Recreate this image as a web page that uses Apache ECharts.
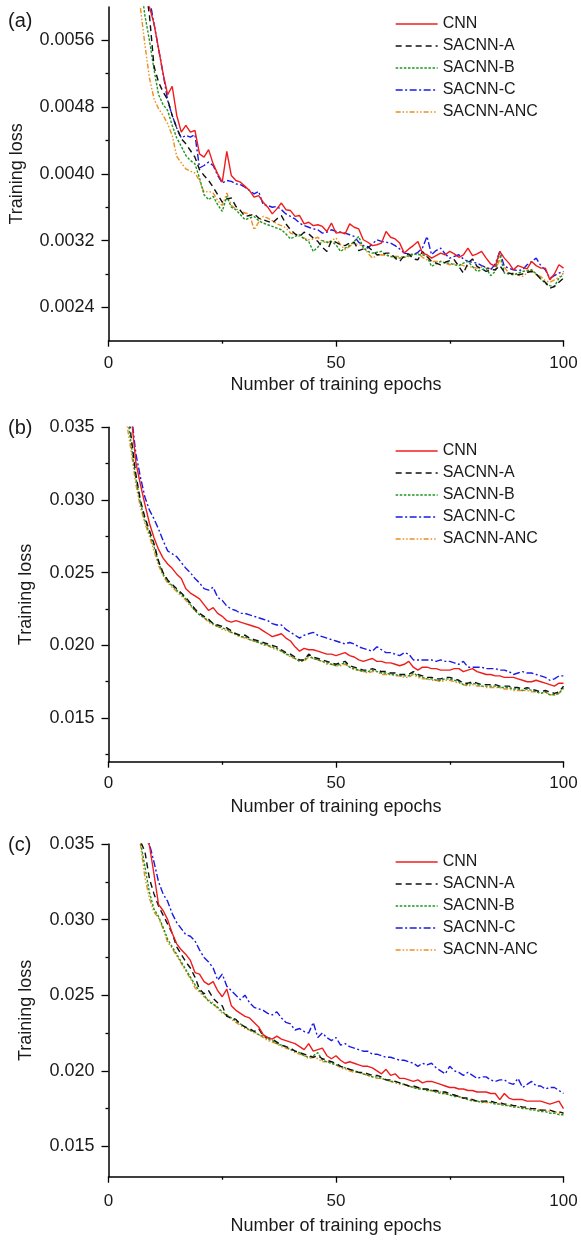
<!DOCTYPE html>
<html>
<head>
<meta charset="utf-8">
<script src="https://cdn.jsdelivr.net/npm/echarts@6/dist/echarts.min.js"></script>
<style>
html,body{margin:0;padding:0;background:#fff;}
#chart{width:581px;height:1241px;}
</style>
</head>
<body>
<div id="chart"></div>
<script>
// ---------------- DATA ----------------
const seriesNames = ['CNN', 'SACNN-A', 'SACNN-B', 'SACNN-C', 'SACNN-ANC'];
const epochs = Array.from({length: 100}, (_, i) => i + 1);
const xTickLabels = [0, 50, 100];

// Panel (a)
const yTicksA = [0.0024, 0.0032, 0.0040, 0.0048, 0.0056];
const yMinorA = [0.0028, 0.0036, 0.0044, 0.0052];
const a_CNN = [
0.0120,0.0100,0.0088,0.0079,0.0072,0.0067,0.0064,0.0062,0.0060,0.0058,
0.0055,0.0052,0.00495,0.00505,0.0047,0.00450,0.00458,0.00450,0.00452,0.00424,
0.00420,0.00429,0.00412,0.00400,0.00390,0.00427,0.00398,0.00392,0.00390,0.00385,
0.00380,0.00372,0.00374,0.00366,0.00360,0.00352,0.00358,0.00365,0.00357,0.00356,
0.00349,0.00350,0.00340,0.00342,0.00338,0.00339,0.00337,0.00331,0.00341,0.00329,
0.00330,0.00328,0.00340,0.00336,0.00334,0.00321,0.00318,0.00314,0.00315,0.00317,
0.00331,0.00324,0.00322,0.00317,0.00305,0.00310,0.00314,0.00319,0.00305,0.00303,
0.00299,0.00302,0.00305,0.00303,0.00307,0.00304,0.00300,0.00303,0.00311,0.00302,
0.00304,0.00307,0.00299,0.00292,0.00289,0.00307,0.00299,0.00293,0.00285,0.00290,
0.00288,0.00286,0.00295,0.00290,0.00287,0.00287,0.00273,0.00280,0.00291,0.00287];
const a_A = [
0.0115,0.0096,0.0084,0.0076,0.0070,0.0066,0.0064,0.0063,0.0059,0.00529,
0.00510,0.00498,0.00489,0.00470,0.00455,0.00442,0.00436,0.00428,0.00420,0.00405,
0.00398,0.00392,0.00384,0.00375,0.00366,0.00370,0.00371,0.00361,0.00356,0.00349,
0.00350,0.00352,0.00347,0.00345,0.00343,0.00341,0.00346,0.00350,0.00340,0.00333,
0.00328,0.00325,0.00330,0.00328,0.00323,0.00319,0.00312,0.00307,0.00320,0.00318,
0.00315,0.00314,0.00317,0.00318,0.00308,0.00310,0.00313,0.00308,0.00303,0.00303,
0.00305,0.00305,0.00299,0.00295,0.00302,0.00304,0.00298,0.00297,0.00307,0.00301,
0.00295,0.00293,0.00291,0.00294,0.00296,0.00297,0.00289,0.00281,0.00293,0.00298,
0.00289,0.00286,0.00283,0.00285,0.00285,0.00290,0.00282,0.00281,0.00280,0.00279,
0.00280,0.00282,0.00283,0.00280,0.00274,0.00270,0.00263,0.00265,0.00270,0.00275];
const a_B = [
0.0112,0.0093,0.0082,0.0074,0.0068,0.0065,0.0063,0.0059,0.00560,0.00525,
0.00495,0.00483,0.00476,0.00458,0.00443,0.00433,0.00422,0.00416,0.00412,0.00395,
0.00375,0.00369,0.00373,0.00363,0.00355,0.00373,0.00360,0.00357,0.00351,0.00345,
0.00347,0.00349,0.00344,0.00341,0.00339,0.00337,0.00335,0.00333,0.00328,0.00322,
0.00325,0.00327,0.00322,0.00319,0.00307,0.00312,0.00320,0.00318,0.00319,0.00315,
0.00307,0.00311,0.00314,0.00319,0.00325,0.00311,0.00307,0.00305,0.00306,0.00307,
0.00303,0.00301,0.00300,0.00299,0.00300,0.00302,0.00304,0.00303,0.00303,0.00301,
0.00289,0.00292,0.00295,0.00293,0.00293,0.00291,0.00290,0.00293,0.00295,0.00289,
0.00283,0.00285,0.00287,0.00278,0.00283,0.00305,0.00281,0.00280,0.00279,0.00281,
0.00283,0.00284,0.00285,0.00280,0.00274,0.00269,0.00266,0.00265,0.00275,0.00279];
const a_C = [
0.0125,0.0104,0.0091,0.0081,0.0074,0.0069,0.0066,0.0063,0.0061,0.0058,
0.00550,0.00520,0.00488,0.00470,0.00455,0.00443,0.00446,0.00444,0.00447,0.00407,
0.00410,0.00414,0.00410,0.00398,0.00389,0.00392,0.00391,0.00388,0.00387,0.00384,
0.00380,0.00376,0.00379,0.00363,0.00362,0.00360,0.00361,0.00357,0.00352,0.00349,
0.00346,0.00341,0.00338,0.00336,0.00334,0.00333,0.00329,0.00330,0.00333,0.00331,
0.00330,0.00329,0.00327,0.00325,0.00318,0.00314,0.00311,0.00316,0.00321,0.00319,
0.00318,0.00317,0.00314,0.00310,0.00305,0.00304,0.00303,0.00306,0.00311,0.00325,
0.00303,0.00308,0.00311,0.00304,0.00299,0.00301,0.00303,0.00298,0.00295,0.00294,
0.00293,0.00290,0.00288,0.00285,0.00292,0.00307,0.00289,0.00287,0.00285,0.00284,
0.00285,0.00291,0.00295,0.00299,0.00290,0.00285,0.00275,0.00278,0.00281,0.00283];
const a_ANC = [
0.0105,0.0088,0.0078,0.0071,0.0066,0.0063,0.0060,0.00555,0.00515,0.00490,
0.00478,0.00470,0.00460,0.00446,0.00421,0.00413,0.00406,0.00403,0.00401,0.00392,
0.00378,0.00379,0.00377,0.00368,0.00362,0.00377,0.00362,0.00358,0.00356,0.00353,
0.00352,0.00333,0.00342,0.00349,0.00347,0.00344,0.00340,0.00338,0.00335,0.00329,
0.00327,0.00325,0.00323,0.00321,0.00322,0.00324,0.00319,0.00317,0.00320,0.00323,
0.00315,0.00309,0.00313,0.00317,0.00315,0.00314,0.00305,0.00299,0.00302,0.00303,
0.00302,0.00301,0.00301,0.00301,0.00300,0.00301,0.00303,0.00305,0.00300,0.00297,
0.00295,0.00295,0.00295,0.00293,0.00291,0.00292,0.00292,0.00290,0.00289,0.00288,
0.00287,0.00288,0.00288,0.00286,0.00285,0.00297,0.00288,0.00281,0.00281,0.00279,
0.00277,0.00281,0.00285,0.00279,0.00277,0.00272,0.00270,0.00273,0.00276,0.00281];

// Panel (b)
const yTicksB = [0.015, 0.020, 0.025, 0.030, 0.035];
const yMinorB = [0.0125, 0.0175, 0.0225, 0.0275, 0.0325];
const b_CNN = [
0.0600,0.0500,0.0430,0.0385,0.0358,0.0326,0.0311,0.0297,0.0284,0.0274,
0.0266,0.0260,0.0256,0.0253,0.0249,0.0246,0.0239,0.0236,0.0234,0.0232,
0.0228,0.0224,0.0226,0.0222,0.0220,0.0217,0.0216,0.0217,0.0216,0.0215,
0.0214,0.0213,0.0212,0.0210,0.0208,0.0206,0.0207,0.0208,0.0205,0.0203,
0.0199,0.0196,0.0198,0.0197,0.0197,0.0196,0.0195,0.0194,0.0194,0.0193,
0.0194,0.0195,0.0193,0.0192,0.0190,0.0189,0.0190,0.0191,0.0189,0.0189,
0.0188,0.0188,0.0187,0.0186,0.0187,0.0189,0.0185,0.0183,0.0185,0.0185,
0.0184,0.0184,0.0183,0.0183,0.0183,0.0184,0.0184,0.0182,0.0183,0.0184,
0.0182,0.0181,0.0180,0.0180,0.0179,0.0179,0.0178,0.0178,0.0178,0.0177,
0.0176,0.0175,0.0175,0.0176,0.0175,0.0174,0.0173,0.0172,0.0174,0.0174];
const b_A = [
0.0580,0.0480,0.0410,0.0370,0.0343,0.0318,0.0300,0.0288,0.0279,0.0270,
0.0258,0.0250,0.0245,0.0242,0.0239,0.0236,0.0233,0.0229,0.0225,0.0222,
0.0220,0.0218,0.0215,0.0214,0.0213,0.0212,0.0210,0.0208,0.0207,0.0207,
0.0205,0.0204,0.0203,0.0202,0.0201,0.0200,0.0199,0.0197,0.0195,0.0194,
0.0192,0.0190,0.0190,0.0194,0.0192,0.0191,0.0190,0.0189,0.0188,0.0187,
0.0188,0.0189,0.0186,0.0185,0.0184,0.0183,0.0183,0.0184,0.0183,0.0182,
0.0182,0.0181,0.0181,0.0180,0.0180,0.0180,0.0182,0.0180,0.0179,0.0178,
0.0178,0.0177,0.0177,0.0178,0.0178,0.0177,0.0176,0.0174,0.0174,0.0175,
0.0174,0.0173,0.0173,0.0173,0.0173,0.0172,0.0172,0.0172,0.0171,0.0171,
0.0170,0.0171,0.0170,0.0169,0.0168,0.0169,0.0168,0.0167,0.0168,0.0172];
const b_B = [
0.0570,0.0470,0.0405,0.0362,0.0338,0.0315,0.0298,0.0286,0.0277,0.0268,
0.0257,0.0249,0.0244,0.0241,0.0238,0.0235,0.0232,0.0228,0.0224,0.0221,
0.0219,0.0217,0.0215,0.0213,0.0212,0.0211,0.0209,0.0208,0.0206,0.0206,
0.0204,0.0203,0.0202,0.0201,0.0200,0.0199,0.0198,0.0196,0.0194,0.0193,
0.0191,0.0189,0.0190,0.0193,0.0191,0.0190,0.0189,0.0188,0.0187,0.0186,
0.0187,0.0188,0.0185,0.0184,0.0183,0.0182,0.0182,0.0183,0.0182,0.0181,
0.0181,0.0180,0.0180,0.0179,0.0179,0.0179,0.0181,0.0179,0.0178,0.0177,
0.0177,0.0176,0.0176,0.0177,0.0177,0.0176,0.0175,0.0173,0.0173,0.0174,
0.0173,0.0172,0.0172,0.0172,0.0172,0.0171,0.0171,0.0171,0.0170,0.0170,
0.0169,0.0170,0.0169,0.0168,0.0167,0.0168,0.0166,0.0166,0.0167,0.0171];
const b_C = [
0.0620,0.0520,0.0450,0.0395,0.0360,0.0332,0.0316,0.0302,0.0293,0.0287,
0.0280,0.0272,0.0265,0.0263,0.0261,0.0257,0.0253,0.0250,0.0246,0.0243,
0.0239,0.0238,0.0240,0.0233,0.0231,0.0227,0.0225,0.0224,0.0222,0.0222,
0.0221,0.0220,0.0219,0.0218,0.0217,0.0215,0.0214,0.0214,0.0211,0.0209,
0.0207,0.0205,0.0207,0.0208,0.0209,0.0207,0.0206,0.0205,0.0204,0.0203,
0.0202,0.0201,0.0202,0.0201,0.0199,0.0198,0.0197,0.0196,0.0199,0.0197,
0.0195,0.0195,0.0194,0.0193,0.0195,0.0194,0.0190,0.0190,0.0190,0.0190,
0.0190,0.0189,0.0190,0.0189,0.0189,0.0188,0.0187,0.0189,0.0185,0.0185,
0.0185,0.0185,0.0184,0.0184,0.0184,0.0183,0.0183,0.0182,0.0180,0.0181,
0.0182,0.0181,0.0181,0.0180,0.0179,0.0178,0.0176,0.0177,0.0179,0.0179];
const b_ANC = [
0.0560,0.0460,0.0398,0.0353,0.0333,0.0311,0.0295,0.0284,0.0275,0.0265,
0.0255,0.0248,0.0243,0.0240,0.0237,0.0234,0.0231,0.0227,0.0224,0.0221,
0.0219,0.0216,0.0214,0.0213,0.0211,0.0210,0.0209,0.0207,0.0206,0.0205,
0.0204,0.0203,0.0202,0.0200,0.0200,0.0198,0.0197,0.0196,0.0194,0.0192,
0.0191,0.0189,0.0189,0.0192,0.0191,0.0190,0.0189,0.0187,0.0187,0.0186,
0.0186,0.0187,0.0185,0.0183,0.0183,0.0182,0.0181,0.0182,0.0182,0.0180,
0.0180,0.0180,0.0179,0.0179,0.0178,0.0178,0.0180,0.0178,0.0177,0.0177,
0.0176,0.0176,0.0175,0.0176,0.0176,0.0175,0.0174,0.0173,0.0172,0.0173,
0.0172,0.0172,0.0171,0.0171,0.0171,0.0171,0.0170,0.0170,0.0169,0.0169,
0.0169,0.0169,0.0168,0.0168,0.0167,0.0168,0.0166,0.0166,0.0167,0.0170];

// Panel (c)
const yTicksC = [0.015, 0.020, 0.025, 0.030, 0.035];
const yMinorC = [0.0175, 0.0225, 0.0275, 0.0325];
const c_CNN = [
0.0650,0.0550,0.0480,0.0430,0.0395,0.0375,0.0362,0.0355,0.0349,0.0330,
0.0310,0.0306,0.0300,0.0291,0.0284,0.0280,0.0277,0.0273,0.0265,0.0264,
0.0259,0.0257,0.0259,0.0253,0.0249,0.0254,0.0243,0.0240,0.0238,0.0236,
0.0235,0.0232,0.0229,0.0224,0.0222,0.0221,0.0223,0.0221,0.0220,0.0219,
0.0218,0.0216,0.0214,0.0218,0.0213,0.0214,0.0215,0.0210,0.0208,0.0210,
0.0207,0.0205,0.0206,0.0205,0.0204,0.0203,0.0203,0.0202,0.0200,0.0198,
0.0201,0.0197,0.0198,0.0195,0.0195,0.0194,0.0193,0.0194,0.0192,0.0193,
0.0193,0.0192,0.0191,0.0190,0.0189,0.0189,0.0188,0.0188,0.0187,0.0187,
0.0186,0.0186,0.0186,0.0185,0.0185,0.0181,0.0185,0.0182,0.0181,0.0181,
0.0181,0.0180,0.0180,0.0180,0.0180,0.0179,0.0178,0.0179,0.0180,0.0175];
const c_A = [
0.0600,0.0500,0.0430,0.0395,0.0370,0.0357,0.0352,0.0345,0.0327,0.0317,
0.0309,0.0303,0.0297,0.0291,0.0282,0.0277,0.0272,0.0268,0.0262,0.0254,
0.0251,0.0253,0.0248,0.0245,0.0243,0.0236,0.0235,0.0234,0.0231,0.0229,
0.0228,0.0226,0.0228,0.0223,0.0222,0.0221,0.0219,0.0217,0.0216,0.0215,
0.0213,0.0212,0.0211,0.0210,0.0209,0.0210,0.0208,0.0207,0.0206,0.0205,
0.0203,0.0202,0.0201,0.0200,0.0199,0.0199,0.0198,0.0197,0.0197,0.0196,
0.0194,0.0194,0.0193,0.0192,0.0191,0.0190,0.0190,0.0189,0.0188,0.0188,
0.0187,0.0187,0.0186,0.0186,0.0185,0.0184,0.0183,0.0182,0.0182,0.0181,
0.0180,0.0180,0.0180,0.0180,0.0179,0.0179,0.0178,0.0178,0.0177,0.0177,
0.0176,0.0176,0.0175,0.0175,0.0174,0.0174,0.0174,0.0173,0.0173,0.0172];
const c_B = [
0.0590,0.0490,0.0425,0.0390,0.0368,0.0358,0.0352,0.0335,0.0318,0.0307,
0.0302,0.0295,0.0287,0.0282,0.0277,0.0272,0.0267,0.0262,0.0257,0.0253,
0.0250,0.0246,0.0244,0.0242,0.0239,0.0237,0.0235,0.0233,0.0231,0.0229,
0.0227,0.0226,0.0224,0.0223,0.0221,0.0220,0.0218,0.0217,0.0216,0.0214,
0.0213,0.0212,0.0210,0.0209,0.0210,0.0212,0.0207,0.0206,0.0205,0.0204,
0.0203,0.0202,0.0201,0.0200,0.0199,0.0198,0.0197,0.0196,0.0196,0.0195,
0.0194,0.0193,0.0193,0.0192,0.0191,0.0190,0.0189,0.0188,0.0188,0.0187,
0.0187,0.0186,0.0185,0.0185,0.0184,0.0183,0.0183,0.0182,0.0181,0.0180,
0.0180,0.0179,0.0180,0.0179,0.0178,0.0178,0.0177,0.0177,0.0176,0.0176,
0.0175,0.0175,0.0174,0.0174,0.0173,0.0173,0.0172,0.0172,0.0171,0.0171];
const c_C = [
0.0680,0.0580,0.0510,0.0460,0.0420,0.0395,0.0375,0.0362,0.0350,0.0338,
0.0325,0.0317,0.0312,0.0304,0.0298,0.0294,0.0290,0.0289,0.0286,0.0280,
0.0275,0.0272,0.0268,0.0260,0.0264,0.0256,0.0253,0.0250,0.0247,0.0250,
0.0245,0.0242,0.0241,0.0240,0.0238,0.0237,0.0239,0.0235,0.0232,0.0231,
0.0227,0.0228,0.0226,0.0225,0.0232,0.0222,0.0225,0.0222,0.0220,0.0222,
0.0217,0.0218,0.0216,0.0215,0.0214,0.0213,0.0213,0.0211,0.0211,0.0210,
0.0209,0.0209,0.0208,0.0207,0.0207,0.0206,0.0205,0.0203,0.0205,0.0204,
0.0205,0.0202,0.0200,0.0198,0.0203,0.0200,0.0199,0.0197,0.0199,0.0197,
0.0195,0.0196,0.0196,0.0194,0.0193,0.0194,0.0194,0.0192,0.0191,0.0195,
0.0189,0.0191,0.0193,0.0190,0.0190,0.0188,0.0189,0.0189,0.0187,0.0185];
const c_ANC = [
0.0580,0.0480,0.0420,0.0385,0.0365,0.0357,0.0350,0.0328,0.0314,0.0305,
0.0301,0.0294,0.0285,0.0281,0.0276,0.0271,0.0266,0.0261,0.0255,0.0252,
0.0249,0.0247,0.0245,0.0241,0.0238,0.0237,0.0234,0.0232,0.0230,0.0228,
0.0227,0.0225,0.0224,0.0222,0.0220,0.0219,0.0218,0.0216,0.0215,0.0214,
0.0212,0.0211,0.0210,0.0208,0.0209,0.0208,0.0206,0.0206,0.0205,0.0204,
0.0202,0.0201,0.0200,0.0199,0.0199,0.0198,0.0197,0.0196,0.0195,0.0195,
0.0194,0.0193,0.0192,0.0191,0.0191,0.0190,0.0189,0.0189,0.0188,0.0187,
0.0187,0.0186,0.0186,0.0185,0.0184,0.0184,0.0183,0.0182,0.0181,0.0181,
0.0180,0.0180,0.0179,0.0179,0.0179,0.0178,0.0178,0.0177,0.0177,0.0176,
0.0176,0.0175,0.0175,0.0175,0.0174,0.0174,0.0173,0.0173,0.0172,0.0172];

// ---------------- STYLE ----------------
const FONT = '"Liberation Sans", Arial, Helvetica, sans-serif';
const TXT = '#1a1a1a';
const styles = [
  {color: '#f01c1c', type: 'solid'},
  {color: '#111111', type: [6, 4]},
  {color: '#1f961f', type: [2.5, 1.6]},
  {color: '#1a1ae6', type: [7, 2.5, 2, 2.5]},
  {color: '#f08d1c', type: [5, 2, 1.5, 2, 1.5, 2]}
];

const panels = [
  {label: '(a)', top: 7, height: 333.7, min: 0.002, max: 0.006, ticks: yTicksA, minor: yMinorA, dec: 4,
   data: [a_CNN, a_A, a_B, a_C, a_ANC], legendTop: 11, nameGapY: 82, labelMarginX: 14, nameGapX: 35, titleTop: 11},
  {label: '(b)', top: 427.3, height: 334.4, min: 0.012, max: 0.035, ticks: yTicksB, minor: yMinorB, dec: 3,
   data: [b_CNN, b_A, b_B, b_C, b_ANC], legendTop: 438, nameGapY: 73, labelMarginX: 13, nameGapX: 36, titleTop: 418},
  {label: '(c)', top: 844, height: 332.7, min: 0.013, max: 0.035, ticks: yTicksC, minor: yMinorC, dec: 3,
   data: [c_CNN, c_A, c_B, c_C, c_ANC], legendTop: 849, nameGapY: 73, labelMarginX: 16, nameGapX: 40, titleTop: 835}
];

const grid = [], xAxis = [], yAxis = [], series = [], legend = [], title = [];
panels.forEach((p, k) => {
  grid.push({left: 108.5, top: p.top, width: 455, height: p.height, containLabel: false});
  title.push({text: p.label, left: 8, top: p.titleTop, padding: 0,
    textStyle: {fontFamily: FONT, fontSize: 20, fontWeight: 'normal', color: TXT}});
  xAxis.push({
    type: 'value', gridIndex: k, min: xTickLabels[0], max: xTickLabels[2], interval: 50,
    name: 'Number of training epochs', nameLocation: 'middle', nameGap: p.nameGapX,
    nameTextStyle: {fontFamily: FONT, fontSize: 18, color: TXT},
    axisLine: {show: true, onZero: false, lineStyle: {color: '#000', width: 1.5}},
    axisTick: {show: true, length: 6, lineStyle: {color: '#000', width: 1.3}},
    minorTick: {show: true, splitNumber: 2, length: 3, lineStyle: {color: '#000', width: 1.3}},
    axisLabel: {fontFamily: FONT, fontSize: 17, color: TXT, margin: p.labelMarginX},
    splitLine: {show: false}, minorSplitLine: {show: false}
  });
  yAxis.push({
    type: 'value', gridIndex: k, min: p.min, max: p.max, position: 'left',
    name: 'Training loss', nameLocation: 'middle', nameGap: p.nameGapY,
    nameTextStyle: {fontFamily: FONT, fontSize: 18, color: TXT},
    axisLine: {show: true, lineStyle: {color: '#000', width: 1.5}},
    axisTick: {show: true, length: 7, customValues: p.ticks, lineStyle: {color: '#000', width: 1.3}},
    axisLabel: {fontFamily: FONT, fontSize: 18, color: TXT, margin: 14, customValues: p.ticks,
      formatter: v => Number(v).toFixed(p.dec)},
    splitLine: {show: false}
  });
  yAxis.push({
    type: 'value', gridIndex: k, min: p.min, max: p.max, position: 'left', offset: 0,
    axisLine: {show: false},
    axisTick: {show: true, length: 3, customValues: p.minor, lineStyle: {color: '#000', width: 1.3}},
    axisLabel: {show: false}, splitLine: {show: false}
  });
  legend.push({
    orient: 'vertical', left: 390, top: p.legendTop, itemWidth: 42, itemHeight: 14, itemGap: 6,
    selectedMode: false, data: seriesNames,
    itemStyle: {opacity: 0},
    lineStyle: {width: 1.3},
    textStyle: {fontFamily: FONT, fontSize: 16, color: TXT, lineHeight: 16}
  });
  seriesNames.forEach((nm, s) => {
    series.push({
      name: nm, type: 'line', xAxisIndex: k, yAxisIndex: 2 * k,
      data: epochs.map((e, i) => [e, p.data[s][i]]),
      symbol: 'none', clip: true, animation: false,
      lineStyle: {color: styles[s].color, width: 1.4, type: styles[s].type},
      itemStyle: {color: styles[s].color},
      z: 10 - s
    });
  });
});

const chart = echarts.init(document.getElementById('chart'), null, {renderer: 'canvas'});
chart.setOption({backgroundColor: '#fff', animation: false, title, grid, xAxis, yAxis, legend, series});
</script>
</body>
</html>
